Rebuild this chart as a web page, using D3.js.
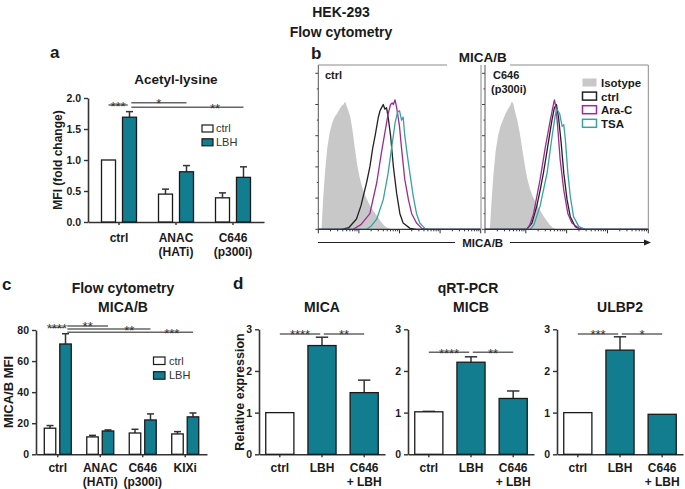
<!DOCTYPE html>
<html><head><meta charset="utf-8">
<script src="https://cdn.jsdelivr.net/npm/d3@7"></script>
<style>body{margin:0;background:#fff}svg{display:block}</style>
</head><body><svg id="c" width="685" height="489"></svg>
<script>
// ---------------- DATA ----------------
// Panel a: Acetyl-lysine MFI (fold change)
const aGroups = ["ctrl", "ANAC", "C646"];
const aGroupLabels = [["ctrl"], ["ANAC", "(HATi)"], ["C646", "(p300i)"]];
const aCtrl = [1.0, 0.45, 0.39];
const aCtrlErr = [0, 0.08, 0.08];
const aLBH = [1.69, 0.81, 0.72];
const aLBHErr = [0.09, 0.10, 0.17];
const aTicks = [0, 0.5, 1.0, 1.5, 2.0];
const aSig = [
  {a: [0, "ctrl"], b: [0, "LBH"], v: 1.887, label: "***"},
  {a: [0, "LBH"], b: [1, "LBH"], v: 1.924, label: "*"},
  {a: [0, "LBH"], b: [2, "LBH"], v: 1.85, label: "**", m: [1, "LBH"]}
];
// Panel c: MICA/B MFI
const cGroups = ["ctrl", "ANAC", "C646", "KIXi"];
const cGroupLabels = [["ctrl"], ["ANAC", "(HATi)"], ["C646", "(p300i)"], ["KIXi"]];
const cCtrl = [16.8, 11.2, 13.7, 13.1];
const cCtrlErr = [1.7, 1.0, 2.4, 1.5];
const cLBH = [71.0, 15.0, 22.1, 24.1];
const cLBHErr = [6.6, 0.7, 3.9, 2.5];
const cTicks = [0, 20, 40, 60, 80];
const cSig = [
  {a: [0, "ctrl"], b: [0, "LBH"], v: 81.7, label: "****"},
  {a: [0, "LBH"], b: [1, "LBH"], v: 82.6, label: "**"},
  {a: [0, "LBH"], b: [2, "LBH"], v: 80.6, label: "**", m: [1, "LBH"]},
  {a: [0, "LBH"], b: [3, "LBH"], v: 78.5, label: "***", m: [2, "LBH"]}
];
// Panel d: qRT-PCR relative expression
const dCats = ["ctrl", "LBH", "C646 + LBH"];
const dCatLabels = [["ctrl"], ["LBH"], ["C646", "+ LBH"]];
const dTicks = [0, 1, 2, 3];
const micaVals = [1.0, 2.61, 1.48];
const micaErr = [0, 0.20, 0.30];
const micbVals = [1.02, 2.21, 1.34];
const micbErr = [0.01, 0.13, 0.18];
const ulbp2Vals = [1.0, 2.50, 0.96];
const ulbp2Err = [0, 0.32, 0];
const micaSig = [{a: [0, "v"], b: [1, "v"], v: 2.89, label: "****"}, {a: [1, "v"], b: [2, "v"], v: 2.89, label: "**"}];
const micbSig = [{a: [0, "v"], b: [1, "v"], v: 2.45, label: "****"}, {a: [1, "v"], b: [2, "v"], v: 2.45, label: "**"}];
const ulbp2Sig = [{a: [0, "v"], b: [1, "v"], v: 2.89, label: "***"}, {a: [1, "v"], b: [2, "v"], v: 2.89, label: "*"}];
// Panel b: flow histograms, [log10 intensity (decades), % of max]
const isoL = [[0,0],[0.08,0],[0.12,20],[0.17,38],[0.22,52],[0.28,62],[0.34,68],[0.40,72],[0.46,74],[0.52,77],[0.57,79],[0.62,80],[0.66,82],[0.70,79],[0.74,76],[0.79,72],[0.84,64],[0.90,52],[0.96,41],[1.02,33],[1.08,27],[1.15,22],[1.22,18],[1.30,14],[1.38,11],[1.46,8],[1.54,5],[1.62,2.5],[1.70,1],[1.80,0],[4,0]];
const ctrlL = [[0,0],[0.57,0],[0.75,1],[0.94,6.6],[1.05,15],[1.19,30],[1.27,40],[1.34,52],[1.40,60],[1.48,72],[1.52,76],[1.56,78],[1.60,80],[1.64,77],[1.68,78],[1.72,72],[1.78,60],[1.85,40],[1.93,23],[2.01,10],[2.09,4],[2.26,0.6],[2.42,0],[4,0]];
const araL = [[0,0],[0.86,0],[1.05,3],[1.27,10],[1.44,30],[1.56,50],[1.64,62],[1.72,74],[1.78,80],[1.82,81],[1.85,80],[1.89,83],[1.93,78],[2.00,66],[2.05,52],[2.13,32],[2.22,19],[2.30,10],[2.42,4],[2.55,0.6],[2.67,0],[4,0]];
const tsaL = [[0,0],[1.19,0],[1.30,2],[1.44,6.6],[1.60,19],[1.72,36],[1.81,53],[1.89,68],[1.95,75],[2.00,76],[2.05,70],[2.09,72],[2.13,60],[2.19,48],[2.26,35],[2.34,21],[2.42,10],[2.50,4],[2.63,0.4],[2.75,0],[4,0]];
const isoR = [[0,0],[0.12,0],[0.16,18],[0.21,36],[0.26,50],[0.32,60],[0.38,66],[0.44,70],[0.50,74],[0.56,77],[0.61,79],[0.66,82],[0.70,80],[0.74,75],[0.79,70],[0.85,62],[0.91,52],[0.97,42],[1.03,33],[1.10,26],[1.17,21],[1.25,17],[1.33,13],[1.42,9],[1.50,6],[1.58,3],[1.66,1],[1.75,0],[4,0]];
const ctrlR = [[0,0],[1.02,0],[1.15,4],[1.27,15],[1.35,25],[1.43,36],[1.50,47],[1.56,57],[1.64,70],[1.70,78],[1.75,80],[1.80,72],[1.86,57],[1.93,36],[2.01,19],[2.09,8],[2.21,1.7],[2.34,0],[4,0]];
const araR = [[0,0],[1.02,0],[1.10,3],[1.19,10],[1.35,32],[1.48,53],[1.60,70],[1.66,78],[1.70,83],[1.74,78],[1.78,66],[1.84,45],[1.93,25],[2.03,10],[2.13,4],[2.30,0.6],[2.42,0],[4,0]];
const tsaR = [[0,0],[1.11,0],[1.20,3],[1.35,15],[1.52,36],[1.64,59],[1.72,73],[1.76,77],[1.83,74],[1.89,66],[1.93,67],[1.97,57],[2.03,36],[2.09,21],[2.17,8],[2.30,1.7],[2.46,0],[4,0]];
const bLegend = ["Isotype", "ctrl", "Ara-C", "TSA"];

// ---------------- DRAWING ----------------
const svg = d3.select("#c");
const FONT = '"Liberation Sans", Arial, Helvetica, sans-serif';
const TEAL = "#137d90", INK = "#1a1a1a", AX = "#333";
const HCOL = {iso: "#c8c8c8", ctrl: "#222222", ara: "#9b2c95", tsa: "#36a2a6"};

function txt(x, y, s, o = {}) {
  const t = svg.append("text").attr("x", x).attr("y", y).text(s)
    .attr("font-family", FONT).attr("font-size", o.size || 12)
    .attr("font-weight", o.weight || "bold").attr("fill", o.fill || INK)
    .attr("text-anchor", o.anchor || "middle");
  if (o.rotate) t.attr("transform", `rotate(${o.rotate},${x},${y})`);
  return t;
}

function barPanel(o) {
  const y = d3.scaleLinear().domain([0, o.yMax]).range([o.yBottom, o.yTop]);
  const x = d3.scaleBand().domain(o.groups).range([o.left, o.right]).paddingInner(o.pi).paddingOuter(o.po);
  const keys = o.series.map(s => s.key);
  const xi = d3.scaleBand().domain(keys).range([0, x.bandwidth()]).paddingInner(o.ipi || 0);
  const bw = xi.bandwidth();
  const cx = (gi, k) => x(o.groups[gi]) + xi(k) + bw / 2;
  const g = svg.append("g");
  const ya = g.append("g").attr("transform", `translate(${o.left},0)`)
    .call(d3.axisLeft(y).tickValues(o.ticks).tickSize(4).tickSizeOuter(0).tickPadding(3).tickFormat(o.fmt));
  const xa = g.append("g").attr("transform", `translate(0,${o.yBottom})`)
    .call(d3.axisBottom(x).tickSize(3).tickSizeOuter(0).tickFormat(""));
  [ya, xa].forEach(a => {
    a.select(".domain").attr("stroke", AX).attr("stroke-width", 1.6);
    a.selectAll(".tick line").attr("stroke", AX).attr("stroke-width", 1.4);
    a.selectAll("text").attr("font-family", FONT).attr("font-size", 10.5).attr("font-weight", "bold").attr("fill", INK);
  });
  o.series.forEach(s => {
    s.vals.forEach((v, i) => {
      const bx = x(o.groups[i]) + xi(s.key);
      const fill = Array.isArray(s.fill) ? s.fill[i] : s.fill;
      const e = s.errs[i];
      if (e > 0) {
        const c = bx + bw / 2, cap = Math.max(3.5, bw * 0.22);
        g.append("line").attr("x1", c).attr("x2", c).attr("y1", y(v)).attr("y2", y(v + e)).attr("stroke", AX).attr("stroke-width", 1.5);
        g.append("line").attr("x1", c - cap).attr("x2", c + cap).attr("y1", y(v + e)).attr("y2", y(v + e)).attr("stroke", AX).attr("stroke-width", 1.5);
      }
      g.append("rect").attr("x", bx).attr("y", y(v)).attr("width", bw).attr("height", y(0) - y(v))
        .attr("fill", fill).attr("stroke", INK).attr("stroke-width", 1.3);
    });
  });
  o.labels.forEach((lines, i) => {
    const c = x(o.groups[i]) + x.bandwidth() / 2;
    lines.forEach((ln, k) => txt(c, o.yBottom + o.lab1 + k * 14, ln, {size: o.labSize || 12}));
  });
  const use = {};
  o.sig.forEach(s => { [s.a, s.b].forEach(p => { const id = p.join(); use[id] = (use[id] || 0) + 1; }); });
  o.sig.forEach(s => {
    let x1 = cx(...s.a), x2 = cx(...s.b);
    if (use[s.a.join()] > 1 && s.a[1] !== keys[0] || (use[s.a.join()] > 1 && o.series.length === 1)) x1 += 1.8;
    if (use[s.b.join()] > 1) x2 -= 1.8;
    const yy = y(s.v);
    g.append("line").attr("x1", x1).attr("x2", x2).attr("y1", yy).attr("y2", yy).attr("stroke", "#666").attr("stroke-width", 1.5);
    const lx = s.m ? (cx(...s.m) + x2) / 2 : (x1 + x2) / 2;
    txt(lx, yy + 5.5, s.label, {size: 13, weight: "normal", fill: "#333"});
  });
  return {x, y, xi};
}

// ---- Main titles ----
txt(341, 17, "HEK-293", {size: 14});
txt(341, 37, "Flow cytometry", {size: 14});

// ---- Panel a ----
txt(50, 58, "a", {size: 17, anchor: "start"});
txt(176, 84, "Acetyl-lysine", {size: 13.5});
barPanel({left: 88, right: 264, yBottom: 222, yTop: 98, yMax: 2, ticks: aTicks, fmt: d3.format(".1f"),
  groups: aGroups, labels: aGroupLabels, pi: 0.386, po: 0.237, ipi: 0.333, lab1: 20,
  series: [{key: "ctrl", vals: aCtrl, errs: aCtrlErr, fill: "#fff"}, {key: "LBH", vals: aLBH, errs: aLBHErr, fill: TEAL}],
  sig: aSig});
txt(61.5, 160, "MFI (fold change)", {size: 12, rotate: -90});
[["ctrl", "#fff"], ["LBH", TEAL]].forEach((d, i) => {
  svg.append("rect").attr("x", 202).attr("y", 125 + i * 13.8).attr("width", 11).attr("height", 7)
    .attr("fill", d[1]).attr("stroke", INK).attr("stroke-width", 1.2);
  txt(216, 132 + i * 13.8, d[0], {size: 11, weight: "normal", anchor: "start", fill: "#333"});
});

// ---- Panel b ----
txt(311, 59, "b", {size: 17, anchor: "start"});
txt(482.7, 62, "MICA/B", {size: 13.5});
const byS = d3.scaleLinear().domain([0, 100]).range([229.3, 73.3]);
const bxL = d3.scaleLinear().domain([0, 4]).range([318.3, 480.7]);
const bxR = d3.scaleLinear().domain([0, 4]).range([485, 648.3]);
function histPanel(x, iso, ctrl, ara, tsa) {
  svg.append("path").datum(iso).attr("fill", HCOL.iso)
    .attr("d", d3.area().x(d => x(d[0])).y0(byS(0)).y1(d => byS(d[1])));
  [[ctrl, HCOL.ctrl], [ara, HCOL.ara], [tsa, HCOL.tsa]].forEach(([data, col]) => {
    svg.append("path").datum(data).attr("fill", "none").attr("stroke", col).attr("stroke-width", 1.3)
      .attr("stroke-linejoin", "round").attr("d", d3.line().x(d => x(d[0])).y(d => byS(d[1])));
  });
  const x0 = x.range()[0];
  svg.append("line").attr("x1", x0).attr("x2", x0).attr("y1", 65).attr("y2", byS(0)).attr("stroke", "#555").attr("stroke-width", 1);
  d3.range(0, 101, 10).forEach(v => {
    const len = v % 20 === 0 ? 3 : 1.5;
    svg.append("line").attr("x1", x0 - len).attr("x2", x0).attr("y1", byS(v)).attr("y2", byS(v)).attr("stroke", "#444").attr("stroke-width", 1);
  });
  svg.append("line").attr("x1", x0).attr("x2", x.range()[1]).attr("y1", byS(0)).attr("y2", byS(0)).attr("stroke", "#333").attr("stroke-width", 1.2);
  d3.range(0, 4).forEach(dd => {
    d3.range(1, 10).forEach(k => {
      const p = x(dd + Math.log10(k)), len = k === 1 ? 4 : 2;
      svg.append("line").attr("x1", p).attr("x2", p).attr("y1", byS(0)).attr("y2", byS(0) + len).attr("stroke", "#333").attr("stroke-width", 1);
    });
  });
  const pe = x(4);
  svg.append("line").attr("x1", pe).attr("x2", pe).attr("y1", byS(0)).attr("y2", byS(0) + 4).attr("stroke", "#333").attr("stroke-width", 1);
}
histPanel(bxL, isoL, ctrlL, araL, tsaL);
histPanel(bxR, isoR, ctrlR, araR, tsaR);
const fr = "#8a8a8a";
svg.append("line").attr("x1", 318.3).attr("x2", 447).attr("y1", 65).attr("y2", 65).attr("stroke", fr);
svg.append("line").attr("x1", 510).attr("x2", 648.3).attr("y1", 65).attr("y2", 65).attr("stroke", fr);
svg.append("line").attr("x1", 481).attr("x2", 481).attr("y1", 65).attr("y2", 229.3).attr("stroke", fr);
svg.append("line").attr("x1", 648.3).attr("x2", 648.3).attr("y1", 65).attr("y2", 229.3).attr("stroke", fr);
txt(325, 79, "ctrl", {size: 11, anchor: "start"});
txt(493, 79, "C646", {size: 11, anchor: "start"});
txt(491, 93, "(p300i)", {size: 11, anchor: "start"});
bLegend.forEach((lab, i) => {
  const yy = 78.5 + i * 13.6;
  const col = [HCOL.iso, HCOL.ctrl, HCOL.ara, HCOL.tsa][i];
  const r = svg.append("rect").attr("x", 582.5).attr("y", yy).attr("width", 14).attr("height", 8);
  if (i === 0) r.attr("fill", col); else r.attr("fill", "#fff").attr("stroke", col).attr("stroke-width", 1.5);
  txt(601, yy + 8.5, lab, {size: 11.5, anchor: "start"});
});
svg.append("line").attr("x1", 318).attr("x2", 455).attr("y1", 242.5).attr("y2", 242.5).attr("stroke", "#222").attr("stroke-width", 1.2);
svg.append("line").attr("x1", 510).attr("x2", 645).attr("y1", 242.5).attr("y2", 242.5).attr("stroke", "#222").attr("stroke-width", 1.2);
svg.append("path").attr("d", "M644,239.5 L651,242.5 L644,245.5 Z").attr("fill", "#222");
txt(482.7, 247, "MICA/B", {size: 11.5});

// ---- Panel c ----
txt(2, 290, "c", {size: 17, anchor: "start"});
txt(123, 293, "Flow cytometry", {size: 14});
txt(123, 312, "MICA/B", {size: 14});
barPanel({left: 36, right: 207, yBottom: 454.3, yTop: 330, yMax: 80, ticks: cTicks, fmt: d3.format("d"),
  groups: cGroups, labels: cGroupLabels, pi: 0.365, po: 0.195, ipi: 0.258, lab1: 18,
  series: [{key: "ctrl", vals: cCtrl, errs: cCtrlErr, fill: "#fff"}, {key: "LBH", vals: cLBH, errs: cLBHErr, fill: TEAL}],
  sig: cSig});
txt(12.5, 392, "MICA/B MFI", {size: 13, rotate: -90});
[["ctrl", "#fff"], ["LBH", TEAL]].forEach((d, i) => {
  svg.append("rect").attr("x", 153.5).attr("y", 357 + i * 14.7).attr("width", 11.5).attr("height", 7.5)
    .attr("fill", d[1]).attr("stroke", INK).attr("stroke-width", 1.2);
  txt(169, 364.5 + i * 14.7, d[0], {size: 11, weight: "normal", anchor: "start", fill: "#333"});
});

// ---- Panel d ----
txt(233, 289, "d", {size: 17, anchor: "start"});
txt(468, 293, "qRT-PCR", {size: 14});
const dPanels = [
  {name: "MICA", left: 259, vals: micaVals, errs: micaErr, sig: micaSig},
  {name: "MICB", left: 408, vals: micbVals, errs: micbErr, sig: micbSig},
  {name: "ULBP2", left: 557, vals: ulbp2Vals, errs: ulbp2Err, sig: ulbp2Sig}
];
dPanels.forEach(p => {
  txt(p.left + 63, 312, p.name, {size: 14});
  barPanel({left: p.left, right: p.left + 126, yBottom: 454.3, yTop: 329.3, yMax: 3, ticks: dTicks, fmt: d3.format("d"),
    groups: dCats, labels: dCatLabels, pi: 0.333, po: 0.16, ipi: 0, lab1: 18,
    series: [{key: "v", vals: p.vals, errs: p.errs, fill: ["#fff", TEAL, TEAL]}],
    sig: p.sig});
});
txt(243.5, 392, "Relative expression", {size: 12.5, rotate: -90});
</script>
</body></html>
